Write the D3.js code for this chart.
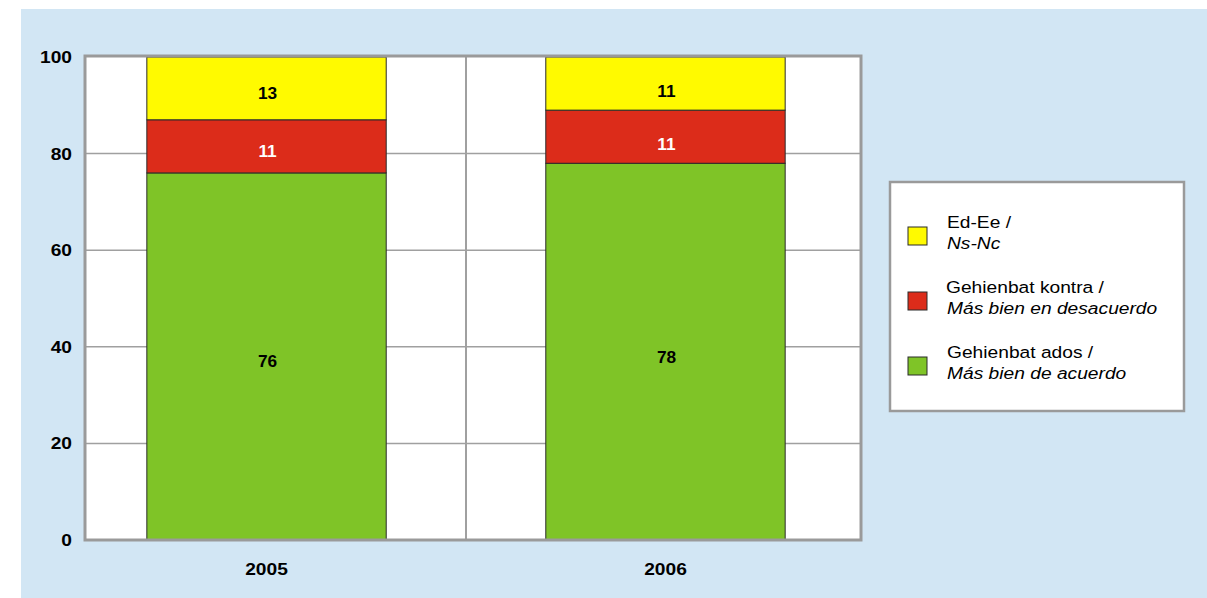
<!DOCTYPE html>
<html>
<head>
<meta charset="utf-8">
<script src="https://cdn.jsdelivr.net/npm/d3@7"></script>
<style>
  body { margin: 0; background: #ffffff; }
  svg text { font-family: Arial, "Liberation Sans", sans-serif; }
</style>
</head>
<body>
<div id="chart"></div>
<script>
// Data
let years = ["2005", "2006"];
let seriesKeys = ["ados", "kontra", "edee"];
let adosValues = [76, 78];
let kontraValues = [11, 11];
let edeeValues = [13, 11];
let yTicks = [0, 20, 40, 60, 80, 100];
let legendLines = [
  ["Ed-Ee /", "Ns-Nc"],
  ["Gehienbat kontra /", "Más bien en desacuerdo"],
  ["Gehienbat ados /", "Más bien de acuerdo"]
];

let colors = { ados: "#7fc427", kontra: "#dc2c1a", edee: "#fffa00" };
let labelColors = { ados: "#000", kontra: "#fff", edee: "#000" };

// text in the original is a bit wider than Liberation Sans
let stretch = 1.13;

// SVG area
let svgWidth = 1207;
let svgHeight = 598;

let svg = d3.select("#chart")
  .append("svg")
  .attr("width", svgWidth)
  .attr("height", svgHeight);

// blue panel
svg.append("rect")
  .attr("x", 21).attr("y", 9)
  .attr("width", svgWidth - 21).attr("height", svgHeight - 9)
  .attr("fill", "#d2e6f4");

// plot frame
let plot = { left: 85, right: 861, top: 56, bottom: 540 };

svg.append("rect")
  .attr("x", plot.left).attr("y", plot.top)
  .attr("width", plot.right - plot.left).attr("height", plot.bottom - plot.top)
  .attr("fill", "#ffffff");

// scales
let xScale = d3.scaleBand()
  .domain(years)
  .range([plot.left, 847])
  .paddingInner(0.4)
  .paddingOuter(0.155);

let yScale = d3.scaleLinear()
  .domain([0, 100])
  .range([540, 57]);

// gridlines
svg.append("g")
  .selectAll("line")
  .data(yTicks.filter(d => d > 0 && d < 100))
  .enter()
  .append("line")
  .attr("x1", plot.left).attr("x2", plot.right)
  .attr("y1", d => yScale(d)).attr("y2", d => yScale(d))
  .attr("stroke", "#a0a0a0")
  .attr("stroke-width", 1.5);

// category separator
let sepX = (xScale("2005") + xScale.bandwidth() + xScale("2006")) / 2;
svg.append("line")
  .attr("x1", sepX).attr("x2", sepX)
  .attr("y1", plot.top).attr("y2", plot.bottom)
  .attr("stroke", "#a0a0a0")
  .attr("stroke-width", 2);

// stack data
let table = years.map((y, i) => ({
  year: y, ados: adosValues[i], kontra: kontraValues[i], edee: edeeValues[i]
}));
let stacked = d3.stack().keys(seriesKeys)(table);

let layers = svg.append("g")
  .selectAll("g")
  .data(stacked)
  .enter()
  .append("g")
  .attr("fill", d => colors[d.key]);

layers.selectAll("rect")
  .data(d => d)
  .enter()
  .append("rect")
  .attr("x", d => xScale(d.data.year))
  .attr("y", d => yScale(d[1]))
  .attr("width", xScale.bandwidth())
  .attr("height", d => yScale(d[0]) - yScale(d[1]))
  .attr("stroke", "#2a2a2a")
  .attr("stroke-width", 1);

// value labels
layers.each(function (layer) {
  d3.select(this).selectAll("text")
    .data(layer)
    .enter()
    .append("text")
    .attr("transform", d => `translate(${xScale(d.data.year) + xScale.bandwidth() / 2 + 1}, ${yScale((d[0] + d[1]) / 2) + 11 + (d.data.year === "2006" && layer.key !== "ados" ? 2 : 0)}) scale(1.08, 1)`)
    .attr("text-anchor", "middle")
    .attr("font-size", "16px")
    .attr("font-weight", "bold")
    .attr("fill", labelColors[layer.key])
    .text(d => d[1] - d[0]);
});

// frame border
svg.append("rect")
  .attr("x", plot.left).attr("y", plot.top)
  .attr("width", plot.right - plot.left).attr("height", plot.bottom - plot.top)
  .attr("fill", "none")
  .attr("stroke", "#9a9a9a")
  .attr("stroke-width", 3);

// y axis labels
svg.append("g")
  .selectAll("text")
  .data(yTicks)
  .enter()
  .append("text")
  .attr("transform", d => `translate(72, ${yScale(d) + 6}) scale(${stretch}, 1)`)
  .attr("text-anchor", "end")
  .attr("font-size", "17px")
  .attr("font-weight", "bold")
  .attr("fill", "#000")
  .text(d => d);

// x axis labels
svg.append("g")
  .selectAll("text")
  .data(years)
  .enter()
  .append("text")
  .attr("transform", d => `translate(${xScale(d) + xScale.bandwidth() / 2}, 575) scale(${stretch}, 1)`)
  .attr("text-anchor", "middle")
  .attr("font-size", "17px")
  .attr("font-weight", "bold")
  .attr("fill", "#000")
  .text(d => d);

// legend
let legend = svg.append("g");
legend.append("rect")
  .attr("x", 890).attr("y", 182)
  .attr("width", 294).attr("height", 229)
  .attr("fill", "#ffffff")
  .attr("stroke", "#9a9a9a")
  .attr("stroke-width", 2.5);

let legendKeys = ["edee", "kontra", "ados"];
let legendRow = legend.selectAll("g.row")
  .data(legendKeys)
  .enter()
  .append("g")
  .attr("class", "row")
  .attr("transform", (d, i) => `translate(0, ${i * 65})`);

legendRow.append("rect")
  .attr("x", 908).attr("y", 227)
  .attr("width", 19).attr("height", 18)
  .attr("fill", d => colors[d])
  .attr("stroke", "#2a2a2a")
  .attr("stroke-width", 1);

legendRow.append("text")
  .attr("transform", (d, i) => `translate(${i === 1 ? 946 : 947}, 228) scale(${stretch}, 1)`)
  .attr("font-size", "17px")
  .attr("fill", "#000")
  .text((d, i) => legendLines[i][0]);

legendRow.append("text")
  .attr("transform", "translate(947, 249) scale(" + stretch + ", 1)")
  .attr("font-size", "17px")
  .attr("font-style", "italic")
  .attr("fill", "#000")
  .text((d, i) => legendLines[i][1]);
</script>
</body>
</html>
